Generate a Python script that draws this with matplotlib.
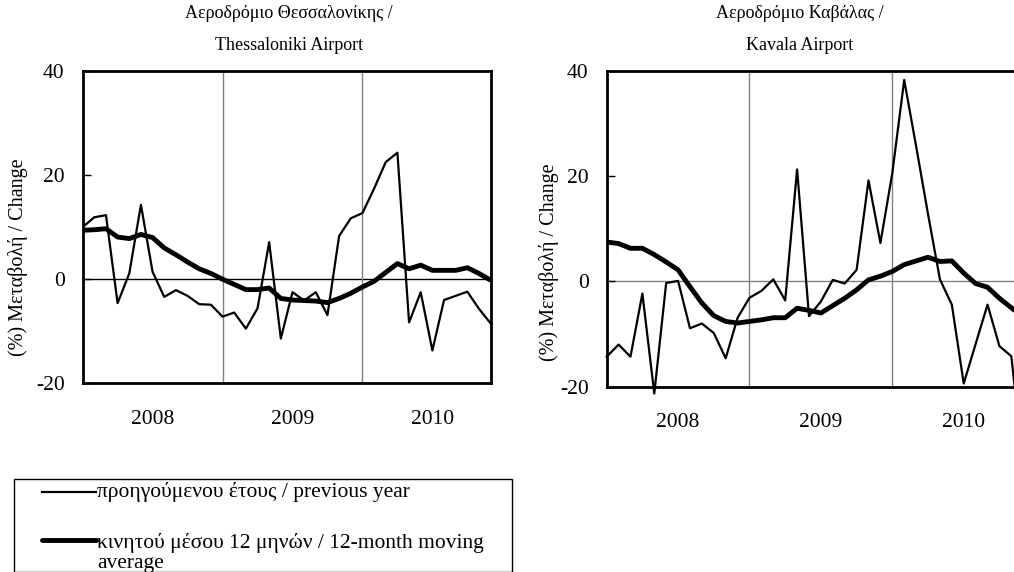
import matplotlib
matplotlib.use("Agg")
import matplotlib.pyplot as plt
from matplotlib.lines import Line2D
from matplotlib.patches import Rectangle
import numpy as np

plt.rcParams['font.family'] = ['Liberation Serif', 'DejaVu Serif']

# monthly data, Jan 2008 - Dec 2010
months = np.arange(36)
year_labels = ['2008', '2009', '2010']

thes_prev = [10.0, 11.9, 12.3, -4.6, 1.1, 14.3, 1.4, -3.4, -2.1, -3.2, -4.8, -4.9,
             -7.2, -6.4, -9.5, -5.6, 7.1, -11.4, -2.5, -4.1, -2.5, -6.9, 8.3, 11.7,
             12.7, 17.4, 22.5, 24.3, -8.3, -2.5, -13.7, -4.0, -3.2, -2.4, -5.7, -8.5]
thes_ma = [9.4, 9.5, 9.7, 8.1, 7.8, 8.6, 8.0, 6.0, 4.7, 3.3, 2.0, 1.1,
           0.0, -1.0, -2.0, -2.0, -1.7, -3.7, -4.0, -4.1, -4.2, -4.5, -3.7, -2.7,
           -1.5, -0.4, 1.3, 3.0, 2.0, 2.7, 1.7, 1.7, 1.7, 2.2, 1.1, -0.2]

kav_prev = [-14.3, -12.0, -14.3, -2.3, -21.3, -0.3, 0.1, -8.9, -8.0, -9.8, -14.6, -6.9,
            -3.1, -1.8, 0.4, -3.6, 21.3, -6.6, -3.8, 0.3, -0.4, 2.2, 19.2, 7.3,
            20.6, 38.3, 25.7, 12.8, 0.4, -4.4, -19.4, -11.9, -4.4, -12.3, -14.2, -35.0]
kav_ma = [7.5, 7.2, 6.3, 6.3, 5.1, 3.7, 2.2, -1.0, -4.1, -6.5, -7.6, -7.9,
          -7.6, -7.3, -6.9, -6.9, -5.1, -5.5, -6.0, -4.6, -3.2, -1.6, 0.3, 1.0,
          1.9, 3.2, 3.9, 4.6, 3.8, 3.9, 1.6, -0.4, -1.1, -3.2, -5.0, -6.8]

titles = ['Αεροδρόμιο Θεσσαλονίκης /', 'Αεροδρόμιο Καβάλας /']
titles2 = ['Thessaloniki Airport', 'Kavala Airport']
ylabel = '(%) Μεταβολή / Change'
legend_labels = ['προηγούμενου έτους / previous year',
                 'κινητού μέσου 12 μηνών / 12-month moving\naverage']

fig = plt.figure(figsize=(10.14, 5.72), dpi=100)

axes = [fig.add_axes([0.0815, 0.3299, 0.4024, 0.546]),
        fig.add_axes([0.5983, 0.3240, 0.4108, 0.5519])]
series = [(thes_prev, thes_ma), (kav_prev, kav_ma)]
zero_colors = ['black', '#808080']

for i, ax in enumerate(axes):
    prev, ma = series[i]
    ax.set_xlim(0, 35)
    ax.set_ylim(-20, 40)
    ax.axhline(0, color=zero_colors[i], lw=1.0, zorder=1)
    for g in [12, 24]:
        ax.axvline(g, color='#808080', lw=1.0, zorder=1)
    ax.plot(months, prev, color='black', lw=1.6, zorder=3, clip_on=(i == 0))
    ax.plot(months, ma, color='black', lw=3.5, zorder=4, solid_capstyle='butt')

    ax.set_yticks([-20, 0, 20, 40])
    ax.set_yticklabels(['-20', '0', '20', '40'])
    ax.tick_params(axis='y', direction='in', length=6, width=1, labelsize=15.5, pad=13)
    ax.set_xticks([6, 18, 30])
    ax.set_xticklabels(year_labels)
    ax.tick_params(axis='x', length=0, labelsize=15.5, pad=19)
    for sp in ax.spines.values():
        sp.set_linewidth(2.0)
        sp.set_zorder(5)
    ax.set_ylabel(ylabel, fontsize=14.5)

axes[0].yaxis.set_label_coords(-0.134, 0.404)
axes[1].yaxis.set_label_coords(-0.1145, 0.395)

# titles
fig.text(0.285, 0.977, titles[0], ha='center', va='center', fontsize=13)
fig.text(0.285, 0.921, titles2[0], ha='center', va='center', fontsize=13)
fig.text(0.789, 0.977, titles[1], ha='center', va='center', fontsize=13)
fig.text(0.789, 0.921, titles2[1], ha='center', va='center', fontsize=13)

# legend box drawn by hand
W, H = 1014.0, 572.0
fig.patches.append(Rectangle((14 / W, 0), (512 - 14) / W, 1 - 478.6 / H,
                             transform=fig.transFigure, fill=False,
                             edgecolor='black', lw=1.0))
fig.lines.append(Line2D([42 / W, 96 / W], [1 - 492 / H] * 2,
                        transform=fig.transFigure, color='black', lw=1.6))
fig.lines.append(Line2D([42 / W, 96 / W], [1 - 540 / H] * 2,
                        transform=fig.transFigure, color='black', lw=3.5,
                        solid_capstyle='round'))
fig.text(97 / W, 1 - 492 / H, legend_labels[0], ha='left', va='center', fontsize=15.5)
fig.text(97 / W, 1 - 553 / H, legend_labels[1], ha='left', va='center', fontsize=15.5,
         linespacing=1.05)

fig.savefig('out.png', dpi=100)
